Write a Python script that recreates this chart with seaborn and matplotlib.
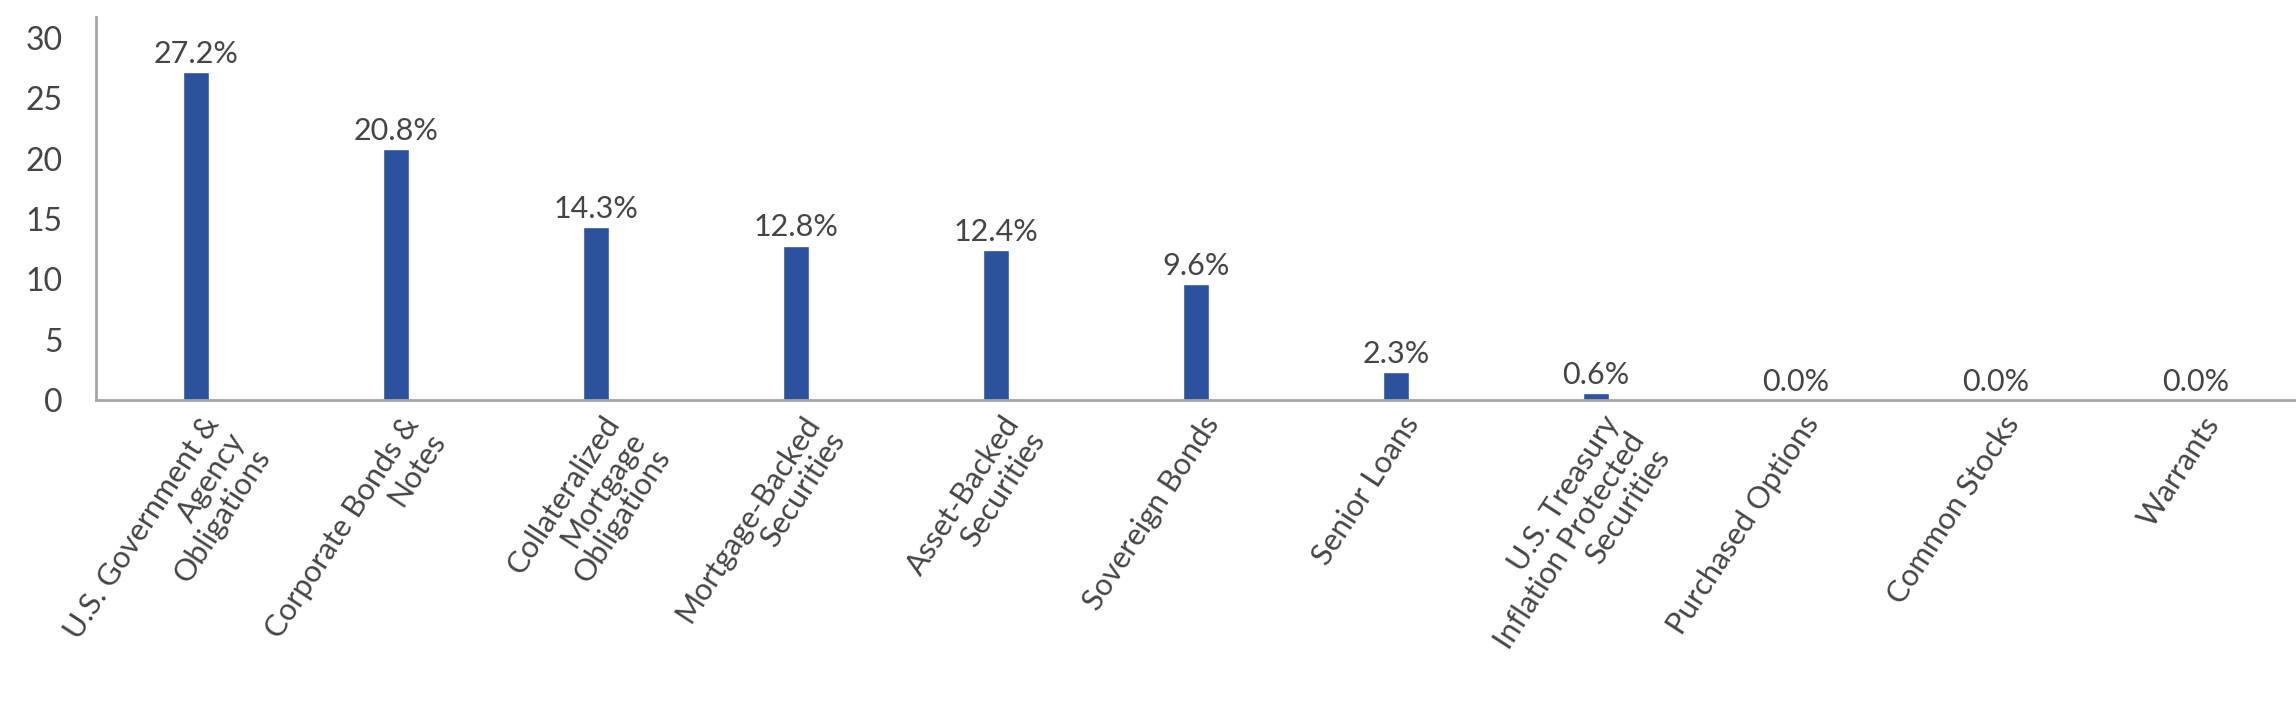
import numpy as np
import pandas as pd
from matplotlib import pyplot as plt
from matplotlib.transforms import ScaledTranslation
import seaborn as sns

categories = [
    "U.S. Government &\nAgency\nObligations",
    "Corporate Bonds &\nNotes",
    "Collateralized\nMortgage\nObligations",
    "Mortgage-Backed\nSecurities",
    "Asset-Backed\nSecurities",
    "Sovereign Bonds",
    "Senior Loans",
    "U.S. Treasury\nInflation Protected\nSecurities",
    "Purchased Options",
    "Common Stocks",
    "Warrants",
]
weights = [27.2, 20.8, 14.3, 12.8, 12.4, 9.6, 2.3, 0.6, 0.0, 0.0, 0.0]
y_ticks = [0, 5, 10, 15, 20, 25, 30]

sns.set_style("white")
plt.rcParams["font.family"] = ["Lato", "DejaVu Sans"]

text_color = "#454545"
axis_color = "#a6a6a6"
bar_color = "#2c519d"

df = pd.DataFrame({"category": categories, "weight": weights})

fig = plt.figure(figsize=(22.96, 7.17), dpi=100)
ax = fig.add_axes([96 / 2296, 317 / 717, 2200 / 2296, 383 / 717])

sns.barplot(data=df, x="category", y="weight", color=bar_color,
            saturation=1, width=0.13, ax=ax)

# value labels above each bar
ax.bar_label(ax.containers[0], labels=[f"{v:.1f}%" for v in weights],
             padding=3, fontsize=22, color=text_color)

ax.set_xlim(-0.5, len(categories) - 0.5)
ax.set_ylim(0, 31.75)
ax.set_yticks(y_ticks)
ax.set_yticklabels([str(t) for t in y_ticks], fontsize=23, color=text_color)
ax.tick_params(axis="y", length=0, pad=24)
ax.tick_params(axis="x", length=0, pad=8)

# rotated category labels, right-aligned lines like the original
ax.set_xticks(range(len(categories)))
ax.set_xticklabels(categories, rotation=57, ha="right", va="top",
                   rotation_mode="anchor", multialignment="right",
                   fontsize=22, color=text_color, linespacing=1.1)
shift = ScaledTranslation(5 / 100, 0, fig.dpi_scale_trans)
for lbl in ax.get_xticklabels():
    lbl.set_transform(lbl.get_transform() + shift)

ax.set_xlabel("")
ax.set_ylabel("")
sns.despine(ax=ax, top=True, right=True)
for side in ["left", "bottom"]:
    ax.spines[side].set_color(axis_color)
    ax.spines[side].set_linewidth(2)

fig.savefig("out.png", dpi=100)
